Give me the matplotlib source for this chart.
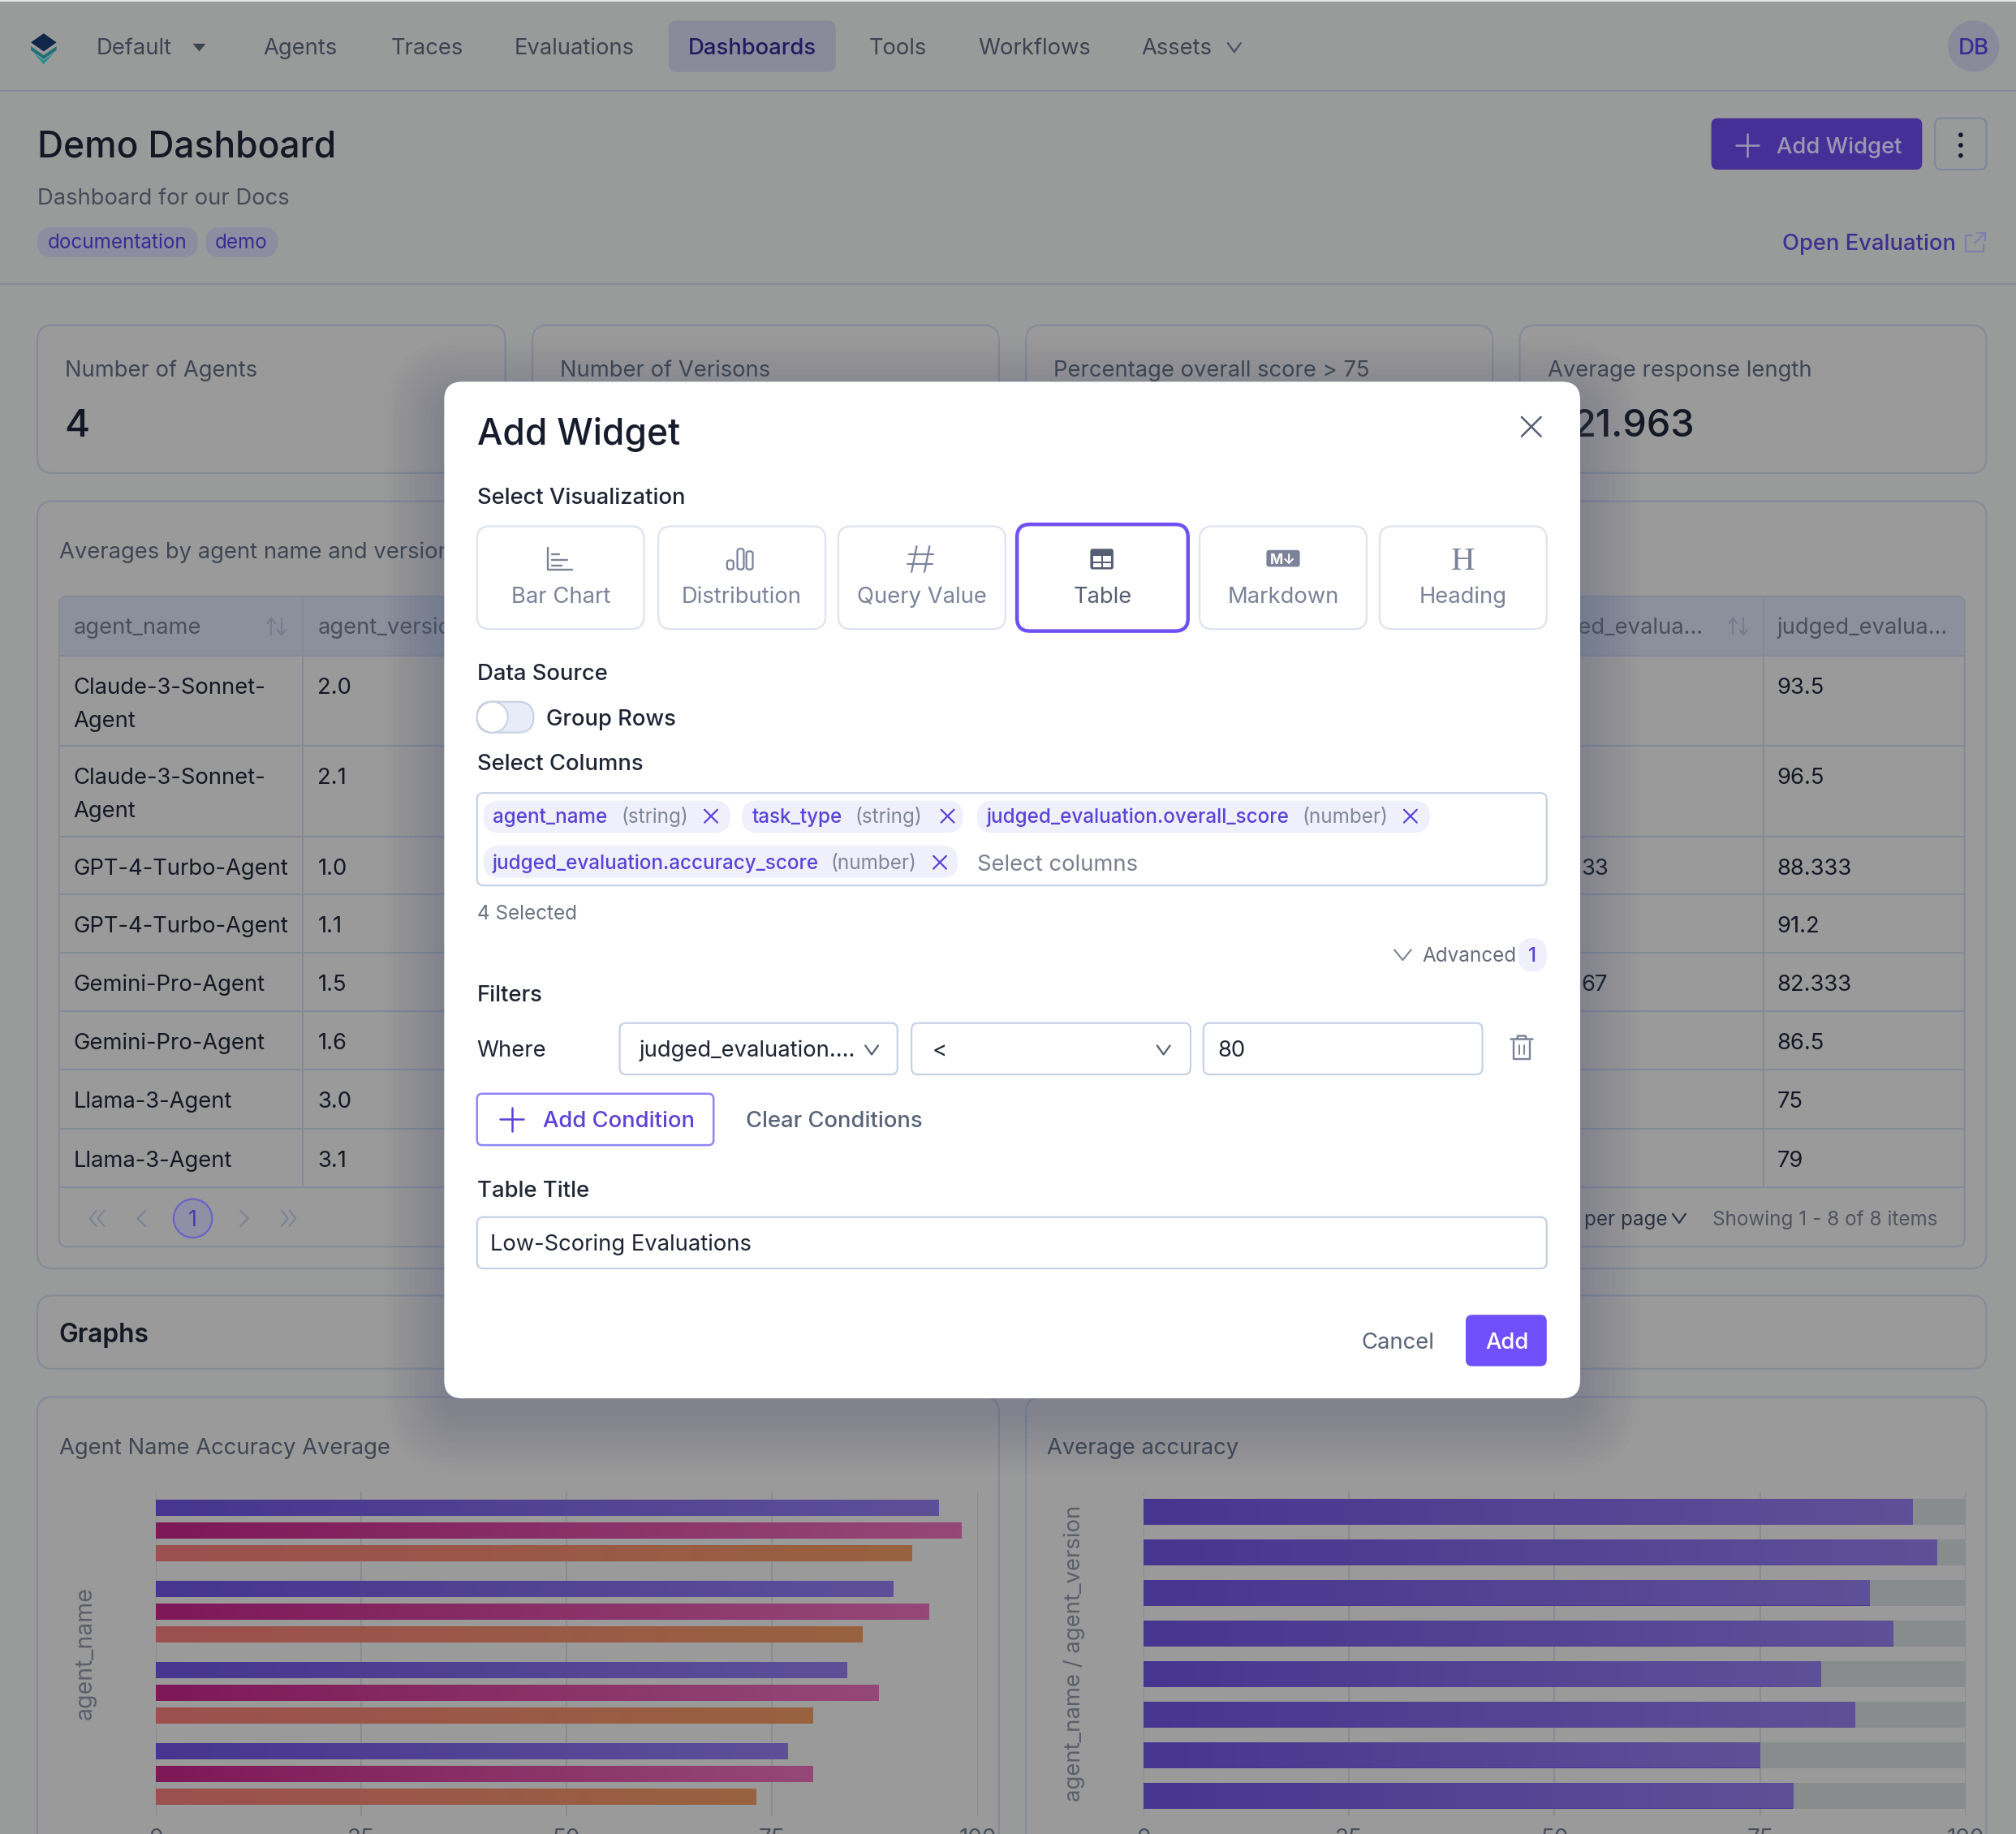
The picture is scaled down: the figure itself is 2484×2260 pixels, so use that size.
import numpy as np
import matplotlib
matplotlib.use("Agg")
import matplotlib.pyplot as plt
from matplotlib.colors import LinearSegmentedColormap
from matplotlib.patches import FancyBboxPatch, Circle, Polygon

plt.rcParams['font.family'] = ['Inter', 'DejaVu Sans']

# chart data
agent_names = ['Claude-3-Sonnet-Agent', 'GPT-4-Turbo-Agent', 'Gemini-Pro-Agent', 'Llama-3-Agent']
series_purple = [95.3, 89.7, 84.1, 76.9]
series_magenta = [98.0, 94.1, 88.0, 80.0]
series_orange = [92.0, 86.0, 80.0, 73.0]

agent_versions = ['2.0', '2.1', '1.0', '1.1', '1.5', '1.6', '3.0', '3.1']
avg_accuracy = [93.5, 96.5, 88.333, 91.2, 82.333, 86.5, 75, 79]
x_ticks = [0, 25, 50, 75, 100]

# table text
row_names = ['Claude-3-Sonnet-', 'Claude-3-Sonnet-', 'GPT-4-Turbo-Agent', 'GPT-4-Turbo-Agent',
             'Gemini-Pro-Agent', 'Gemini-Pro-Agent', 'Llama-3-Agent', 'Llama-3-Agent']
row_last = ['93.5', '96.5', '88.333', '91.2', '82.333', '86.5', '75', '79']
row_tops = [510, 580, 651, 696, 741, 787, 832, 878, 924]

nav_items = [('Default', 75), ('Agents', 205), ('Traces', 304), ('Evaluations', 400),
             ('Tools', 676), ('Workflows', 761), ('Assets', 888)]
stat_cards = [(29, 393, 'Number of Agents'), (414, 777, 'Number of Verisons'),
              (798, 1161, 'Percentage overall score > 75'), (1182, 1545, 'Average response length')]
viz_cards = [(371, 501, 'Bar Chart'), (512, 642, 'Distribution'), (652, 782, 'Query Value'),
             (791, 924, 'Table'), (933, 1063, 'Markdown'), (1073, 1203, 'Heading')]

PAGE = '#999a9a'
LINE = '#858a97'
DARK = '#141824'
GREY_TXT = '#3f4553'
PURPLE = '#5a43d6'
ICON = '#7b8299'
BODY = 17.3
SMALL = 15.3

W, H = 1568, 1427   # layout coords, scaled to the 2484x2260 output
SCALE = 2484 / W

fig = plt.figure(figsize=(24.84, 22.60), dpi=100, facecolor=PAGE)


def layer(z):
    a = fig.add_axes([0, 0, 1, 1], zorder=z)
    a.set_xlim(0, W)
    a.set_ylim(H, 0)
    a.axis('off')
    a.patch.set_alpha(0)
    return a


bg = layer(0)
top = layer(5)


def box(ax, x0, y0, x1, y1, r=4, fc='none', ec='none', lw=1.5, z=2, alpha=None):
    p = FancyBboxPatch((x0, y0), x1 - x0, y1 - y0, boxstyle=f'round,pad=0,rounding_size={r}',
                       fc=fc, ec=ec, lw=lw, zorder=z, alpha=alpha)
    ax.add_patch(p)
    return p


def txt(ax, x, y, s, size=BODY, color=DARK, weight='normal', ha='left', z=6, family=None):
    kw = {'family': family} if family else {}
    ax.text(x, y + size * 0.36, s, fontsize=size * SCALE * 0.72, color=color, fontweight=weight,
            ha=ha, va='baseline', zorder=z, **kw)


def line(ax, xs, ys, color=ICON, lw=1.8, z=6):
    ax.plot(xs, ys, color=color, lw=lw, zorder=z, solid_capstyle='round', solid_joinstyle='round')


def chevron(ax, x, y, w=5, h=3.5, color='#565e72', lw=1.6):
    line(ax, [x - w, x, x + w], [y - h, y + h, y - h], color=color, lw=lw)


def cross(ax, x, y, s=5.5, color=PURPLE, lw=1.6):
    line(ax, [x - s, x + s], [y - s, y + s], color=color, lw=lw)
    line(ax, [x - s, x + s], [y + s, y - s], color=color, lw=lw)


def plus(ax, x, y, s=9, color=PURPLE, lw=1.8):
    line(ax, [x - s, x + s], [y, y], color=color, lw=lw)
    line(ax, [x, x], [y - s, y + s], color=color, lw=lw)


# ---- page behind the dialog
bg.fill_between([0, W], 0, 1.5, color='#e6e6e6', lw=0)
bg.plot([0, W], [71, 71], color=LINE, lw=1.5)
bg.plot([0, W], [221, 221], color=LINE, lw=1.5)

# logo
bg.add_patch(Polygon([(34, 26), (44, 33), (34, 40), (24, 33)], fc='#10264a', zorder=3))
bg.add_patch(Polygon([(24, 36), (34, 43), (44, 36), (44, 39), (34, 46), (24, 39)], fc='#1f6f78', zorder=3))
bg.add_patch(Polygon([(26, 41), (34, 47), (42, 41), (34, 50)], fc='#1f8f8f', zorder=3))

box(bg, 520, 16, 650, 56, r=6, fc='#8b8a9b')
txt(bg, 535, 36, 'Dashboards', BODY, '#221a5e', 'medium')
for name, x in nav_items:
    txt(bg, x, 36, name, BODY, '#3d4350')
bg.add_patch(Polygon([(150, 34), (160, 34), (155, 40)], fc='#3d4350', zorder=3))
chevron(bg, 960, 37, color='#4a5060')
bg.add_patch(Circle((1535, 36), 20, fc='#8b8a9b', zorder=2))
txt(bg, 1535, 36, 'DB', 17.5, '#3a2a92', 'medium', ha='center')

txt(bg, 29, 112, 'Demo Dashboard', 28, DARK, 'medium')
txt(bg, 29, 153, 'Dashboard for our Docs', BODY, '#464b57')
box(bg, 29, 177, 154, 200, r=11, fc='#8d8ca0')
box(bg, 160, 177, 216, 200, r=11, fc='#8d8ca0')
txt(bg, 37, 188, 'documentation', SMALL, '#3a2a92')
txt(bg, 167, 188, 'demo', SMALL, '#3a2a92')

box(bg, 1331, 92, 1495, 132, r=5, fc='#453098')
plus(bg, 1359, 113, 9, '#9b98b4', 1.8)
txt(bg, 1382, 113, 'Add Widget', BODY, '#9b98b4', 'medium')
box(bg, 1505, 92, 1545, 132, r=5, ec='#7f869b')
for dy in (-8, 0, 8):
    bg.add_patch(Circle((1525, 113 + dy), 1.8, fc=DARK, zorder=3))
txt(bg, 1386, 188, 'Open Evaluation', BODY, '#3f2f91', 'medium')
line(bg, [1534, 1529, 1529, 1543, 1543], [183, 183, 196, 196, 190], '#7f80a8', 1.6)
line(bg, [1536, 1544], [189, 181], '#7f80a8', 1.6)
line(bg, [1538, 1544, 1544], [181, 181, 187], '#7f80a8', 1.6)

for x0, x1, title in stat_cards:
    box(bg, x0, 253, x1, 368, r=12, fc='#9a9a9a', ec=LINE)
    txt(bg, x0 + 21.5, 287, title, BODY, GREY_TXT)
txt(bg, 50, 329, '4', 30, DARK, 'medium')
txt(bg, 1223, 329, '21.963', 29.5, DARK, 'medium')

# averages table
box(bg, 29, 390, 1545, 987, r=12, fc='#9a9a9a', ec=LINE)
txt(bg, 46, 428, 'Averages by agent name and version', BODY, GREY_TXT)
box(bg, 46, 464, 1528, 970, r=6, ec=LINE)
box(bg, 46.5, 464.5, 1527.5, 510, r=4, fc='#8b909c', z=2)
for x in (235.5, 1371.7):
    bg.plot([x, x], [464, 924], color=LINE, lw=1.5, zorder=3)
for y in row_tops:
    bg.plot([46, 1528], [y, y], color=LINE, lw=1.5, zorder=3)

txt(bg, 57, 487, 'agent_name', BODY, '#4a4f5c')
txt(bg, 247, 487, 'agent_version', BODY, '#4a4f5c')
txt(bg, 1325, 487, 'judged_evalua...', BODY, '#4a4f5c', ha='right')
txt(bg, 1382, 487, 'judged_evalua...', BODY, '#4a4f5c')
for sx in (215, 1352):
    line(bg, [sx - 4, sx - 4], [482, 494], '#767c8c', 1.5)
    line(bg, [sx - 7, sx - 4, sx - 1], [485, 481, 485], '#767c8c', 1.5)
    line(bg, [sx + 4, sx + 4], [481, 493], '#767c8c', 1.5)
    line(bg, [sx + 1, sx + 4, sx + 7], [490, 494, 490], '#767c8c', 1.5)

for i, (nm, ver, last) in enumerate(zip(row_names, agent_versions, row_last)):
    y = row_tops[i] + 23.5
    txt(bg, 57, y, nm, BODY, DARK)
    if i < 2:
        txt(bg, 57, y + 26, 'Agent', BODY, DARK)
    txt(bg, 247, y, ver, BODY, DARK)
    txt(bg, 1382, y, last, BODY, DARK)
txt(bg, 1230, 674.5, '33', BODY, DARK)
txt(bg, 1230, 765, '67', BODY, DARK)

line(bg, [75, 70, 75], [942, 948, 954], ICON, 1.5)
line(bg, [81, 76, 81], [942, 948, 954], ICON, 1.5)
line(bg, [113, 107, 113], [942, 948, 954], ICON, 1.5)
bg.add_patch(Circle((150, 948), 15, fc='#8f8fa6', ec='#6a62c8', lw=1.6, zorder=3))
txt(bg, 150, 948, '1', 17, '#4a3ab0', ha='center')
line(bg, [187, 193, 187], [942, 948, 954], ICON, 1.5)
line(bg, [219, 224, 219], [942, 948, 954], ICON, 1.5)
line(bg, [225, 230, 225], [942, 948, 954], ICON, 1.5)
txt(bg, 1232, 948, 'per page', SMALL, '#2c3140')
chevron(bg, 1306, 948, color='#2c3140')
txt(bg, 1332, 948, 'Showing 1 - 8 of 8 items', SMALL, '#50545f')

box(bg, 29, 1008, 1545, 1065, r=12, fc='#9a9a9a', ec=LINE)
txt(bg, 46, 1037, 'Graphs', 20, DARK, 'semibold')

box(bg, 29, 1087, 777, 1460, r=12, fc='#9a9a9a', ec=LINE)
box(bg, 798, 1087, 1545, 1460, r=12, fc='#9a9a9a', ec=LINE)
txt(bg, 46, 1125, 'Agent Name Accuracy Average', BODY, GREY_TXT)
txt(bg, 814, 1125, 'Average accuracy', BODY, GREY_TXT)


# ---- the two bar charts
def gradient_bars(ax, bars, c0, c1):
    cmap = LinearSegmentedColormap.from_list('g', [c0, c1])
    for b in bars:
        x0, y0 = b.get_x(), b.get_y()
        im = ax.imshow(np.linspace(0, 1, 256).reshape(1, -1), cmap=cmap, aspect='auto', zorder=4,
                       extent=[x0, x0 + b.get_width(), y0 + b.get_height(), y0])
        im.set_clip_path(b)


def chart_axes(left, right, n, ylabel, label_x, label_size):
    ax = fig.add_axes([left / 2484, (2260 - 2237.5) / 2260, (right - left) / 2484, 400 / 2260], zorder=2)
    ax.patch.set_alpha(0)
    ax.set_xlim(0, 100)
    ax.set_ylim(n, 0)
    ax.set_xticks(x_ticks)
    ax.set_yticks([])
    ax.grid(axis='x', color='#868a8e', lw=1.2)
    ax.set_axisbelow(True)
    ax.tick_params(axis='x', length=0, pad=11, labelsize=20, labelcolor='#4a4f5c')
    for s in ax.spines.values():
        s.set_visible(False)
    ax.set_ylabel(ylabel, fontsize=label_size, color='#5a5f6a')
    ax.yaxis.set_label_coords((label_x - left) / (right - left), 0.5)
    return ax


ax1 = chart_axes(192, 1204.5, len(agent_names), 'agent_name', 119, 20.5)
pos = np.arange(len(agent_names)) + 0.485
for vals, off, c0, c1 in [(series_purple, -0.28, '#46368f', '#5d5098'),
                          (series_magenta, 0, '#7e1857', '#954878'),
                          (series_orange, 0.28, '#9c5050', '#98623f')]:
    bars = ax1.barh(pos + off, vals, height=0.2, color=c0, zorder=3)
    gradient_bars(ax1, bars, c0, c1)
ax1.set_xlim(0, 100)
ax1.set_ylim(len(agent_names), 0)

ax2 = chart_axes(1409, 2422, len(avg_accuracy), 'agent_name / agent_version', 1337, 19.8)
pos2 = np.arange(len(avg_accuracy)) + 0.5
ax2.barh(pos2, [100] * len(pos2), height=0.64, color='#888c8d', zorder=2)
bars2 = ax2.barh(pos2, avg_accuracy, height=0.64, color='#473690', zorder=3)
gradient_bars(ax2, bars2, '#473690', '#5e5197')
ax2.set_xlim(0, 100)
ax2.set_ylim(len(avg_accuracy), 0)

# ---- dialog
for i in range(12):
    g = 3 + i * 4
    box(top, 345.5 - g, 297 - g + 14, 1229 + g, 1088 + g + 12, r=16 + g, fc='#46566e', alpha=0.022, z=1)
box(top, 345.5, 297, 1229, 1088, r=14, fc='white', z=2)

txt(top, 371, 336, 'Add Widget', 28, '#161c2c', 'medium')
cross(top, 1191, 332, 7.5, '#565e72', 1.8)
txt(top, 371, 386, 'Select Visualization', BODY, '#1f2533', 'medium')

for x0, x1, label in viz_cards:
    sel = label == 'Table'
    if sel:
        box(top, x0, 408, x1, 491, r=10, fc='white', ec='#6e50f5', lw=3.2, z=3)
    else:
        box(top, x0, 409.5, x1, 489.5, r=10, fc='white', ec='#dfe3ee', lw=1.6, z=3)
    txt(top, (x0 + x1) / 2, 463, label, BODY, '#565e72' if sel else '#7b8299', ha='center')

# viz icons
line(top, [426, 426, 445], [426, 443, 443], ICON, 1.7)
for ly, lx in ((431, 435), (435.5, 441), (440, 437)):
    line(top, [429, lx], [ly, ly], ICON, 1.7)
for bx, by in ((568, 436), (576, 427), (583, 429)):
    box(top, bx - 2.5, by, bx + 2.5, 443, r=2, ec=ICON, lw=1.6, z=6)
line(top, [713, 709], [425, 445], ICON, 1.6)
line(top, [723, 719], [425, 445], ICON, 1.6)
line(top, [707, 726], [431, 431], ICON, 1.6)
line(top, [706, 725], [439, 439], ICON, 1.6)
box(top, 848, 427, 866, 443, r=2, fc='#565e72', z=6)
for rx, ry0, ry1 in ((850, 432.5, 437), (858, 432.5, 437), (850, 438, 441.5), (858, 438, 441.5)):
    top.fill_between([rx, rx + 6.3], ry0, ry1, color='white', lw=0, zorder=7)
box(top, 985, 428, 1011, 441, r=2, fc=ICON, z=6)
txt(top, 998, 434.5, 'M↓', 11, 'white', 'bold', ha='center', z=7)
txt(top, 1138, 434, 'H', 26, ICON, ha='center', family='Liberation Serif')

txt(top, 371, 523, 'Data Source', BODY, '#1f2533', 'medium')
box(top, 371, 546, 415, 570, r=12, fc='#e8ecf8', ec='#c8d0e0', z=3)
top.add_patch(Circle((383, 558), 12, fc='white', ec='#c8d0e0', lw=1.4, zorder=4))
txt(top, 425, 558, 'Group Rows', BODY, '#1f2533', 'medium')
txt(top, 371, 593, 'Select Columns', BODY, '#1f2533', 'medium')

box(top, 371, 617, 1203, 689, r=5, fc='white', ec='#c3cfe5', z=3)
for x0, x1, y0, y1 in ((376, 568, 623, 648), (577, 749, 623, 648), (760, 1112, 623, 648), (376, 745, 658, 683)):
    box(top, x0, y0, x1, y1, r=12, fc='#f0f0fc', z=4)
for x, y, s in ((383, 635, 'agent_name'), (585, 635, 'task_type'), (767, 635, 'judged_evaluation.overall_score'),
                (383, 671, 'judged_evaluation.accuracy_score')):
    txt(top, x, y, s, SMALL, PURPLE, 'medium')
for x, y, s in ((483, 635, '(string)'), (665, 635, '(string)'), (1013, 635, '(number)'), (646, 671, '(number)')):
    txt(top, x, y, s, SMALL, '#7e8698')
for x, y in ((553, 635), (737, 635), (1097, 635), (731, 671)):
    cross(top, x, y, 5)
txt(top, 760, 671, 'Select columns', BODY, '#7b8090')
txt(top, 371, 710, '4 Selected', SMALL, '#6c7280')

chevron(top, 1091, 743, 6.5, 4, ICON, 1.5)
txt(top, 1106, 743, 'Advanced', SMALL, '#666c7c')
box(top, 1181, 730, 1203, 756, r=11, fc='#f0f0fc', z=3)
txt(top, 1192, 743, '1', SMALL, PURPLE, 'medium', ha='center')

txt(top, 371, 773, 'Filters', BODY, '#1f2533', 'medium')
txt(top, 371, 816, 'Where', BODY, '#1f2533')
for x0, x1 in ((482, 698), (709, 926), (936, 1153)):
    box(top, x0, 796, x1, 836, r=5, fc='white', ec='#c3cfe5', z=3)
txt(top, 497, 816, 'judged_evaluation....', BODY, '#1f2533')
chevron(top, 678, 817)
txt(top, 725, 816, '<', BODY, '#1f2533')
chevron(top, 905, 817)
txt(top, 947, 816, '80', BODY, '#1f2533')

# trash icon
line(top, [1175, 1192], [808, 808], ICON, 1.8)
line(top, [1180, 1180.5, 1186.5, 1187], [808, 806, 806, 808], ICON, 1.8)
line(top, [1177, 1177, 1190, 1190], [810, 824, 824, 810], ICON, 1.7)
line(top, [1181.5, 1181.5], [813, 820], ICON, 1.4)
line(top, [1185.5, 1185.5], [813, 820], ICON, 1.4)

box(top, 371, 851, 555, 891, r=4, fc='white', ec='#8f86f5', lw=1.8, z=3)
plus(top, 398, 871, 9, PURPLE, 1.8)
txt(top, 422, 871, 'Add Condition', BODY, PURPLE, 'medium')
txt(top, 580, 871, 'Clear Conditions', BODY, '#5a6478', 'medium')

txt(top, 371, 925, 'Table Title', BODY, '#1f2533', 'medium')
box(top, 371, 947, 1203, 987, r=5, fc='white', ec='#c3cfe5', z=3)
txt(top, 381, 967, 'Low-Scoring Evaluations', BODY, '#1f2533')

txt(top, 1059, 1043, 'Cancel', BODY, '#5a6478')
box(top, 1140, 1023, 1203, 1063, r=5, fc='#7050fa', z=3)
txt(top, 1172, 1043, 'Add', BODY, 'white', 'medium', ha='center')

fig.savefig('out.png', dpi=100)
